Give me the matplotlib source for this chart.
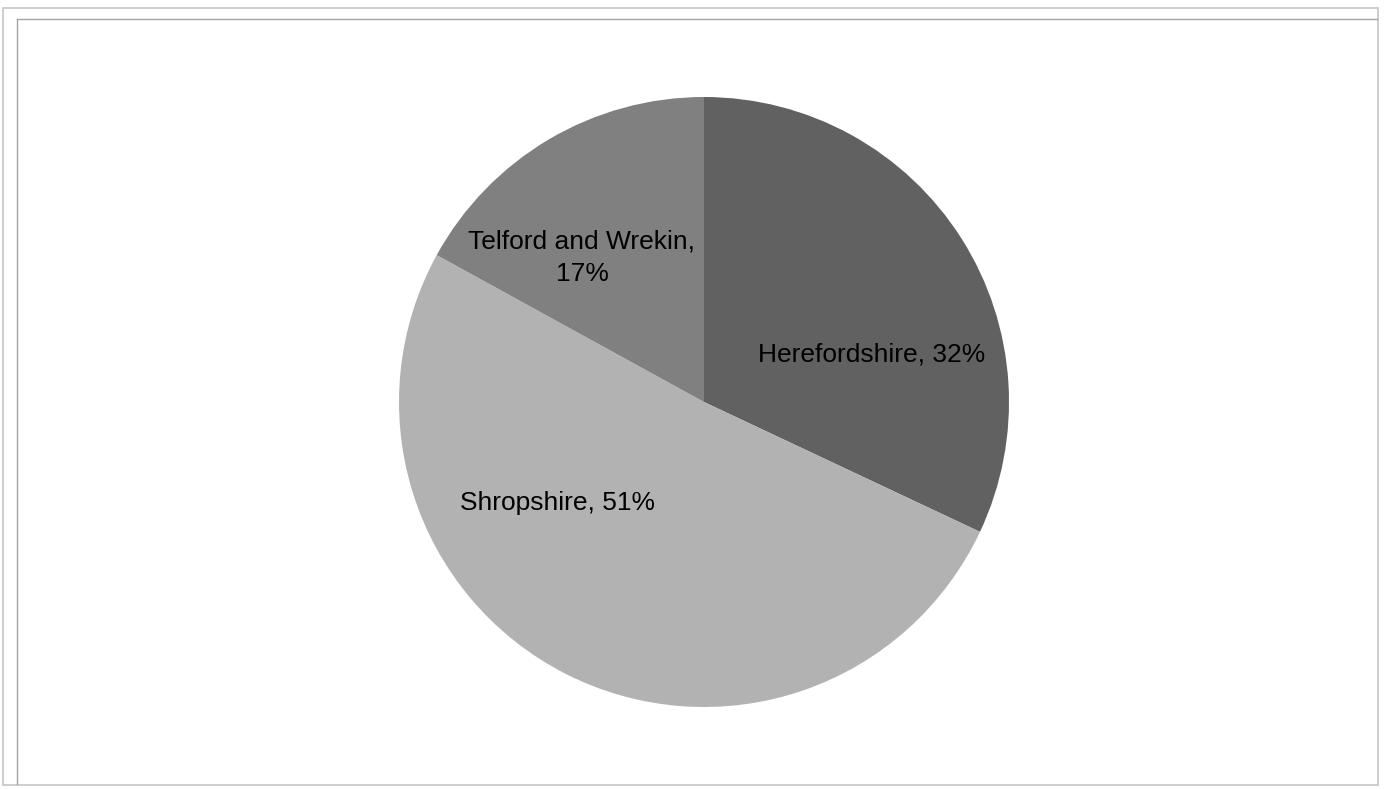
import matplotlib.pyplot as plt
from matplotlib.lines import Line2D

# Share of total by local authority
regions = ['Herefordshire', 'Shropshire', 'Telford and Wrekin']
shares = [32, 51, 17]
label_text = ['Herefordshire, 32%', 'Shropshire, 51%', 'Telford and Wrekin,\n17%']

colors = ['#616161', '#b2b2b2', '#808080']
# label placement inside each wedge (fraction of radius)
label_pos = [(0.548, 0.157), (-0.479, -0.331), (-0.40, 0.474)]

plt.rcParams['font.family'] = ['Liberation Sans', 'DejaVu Sans']

W, H = 1384, 789
fig = plt.figure(figsize=(W / 100, H / 100), dpi=100)

# outer frame and chart area frame
fig.add_artist(plt.Rectangle((3 / W, 1 - 784.5 / H), 1374.5 / W, 777 / H,
                             transform=fig.transFigure, fill=False,
                             ec='#c0c0c0', lw=1.1))
fig.add_artist(Line2D([16.5 / W, 16.5 / W], [1 - 19 / H, 1 - 784 / H],
                      transform=fig.transFigure, color='#a4a4a4', lw=1))
fig.add_artist(Line2D([16.5 / W, 1377 / W], [1 - 19 / H, 1 - 19 / H],
                      transform=fig.transFigure, color='#a4a4a4', lw=1))

cx, cy, r = 704, 402, 305
ax = fig.add_axes([(cx - r) / W, 1 - (cy + r) / H, 2 * r / W, 2 * r / H])
wedges, _ = ax.pie(shares, colors=colors, startangle=90, counterclock=False,
                   radius=1, wedgeprops=dict(linewidth=0))
ax.set_xlim(-1, 1)
ax.set_ylim(-1, 1)
ax.set_aspect('auto')
ax.axis('off')

for txt, (x, y) in zip(label_text, label_pos):
    ax.text(x, y, txt, ha='center', va='center', fontsize=19,
            color='black', linespacing=1.45)

fig.savefig('out.png', dpi=100)
